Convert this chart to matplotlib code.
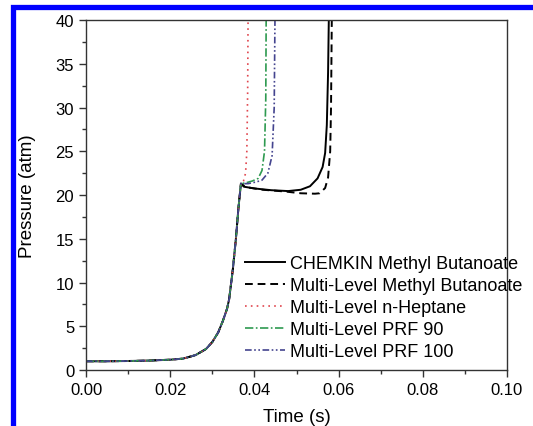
import matplotlib
matplotlib.use("Agg")
from matplotlib import pyplot as plt
from matplotlib.patches import Rectangle
from matplotlib.ticker import MultipleLocator
import numpy as np

plt.rcParams['font.family'] = ['Liberation Sans', 'DejaVu Sans']

# compression stroke, shared by all runs
t_comp = [0.0, 0.005, 0.010, 0.015, 0.020, 0.023, 0.026, 0.0285, 0.030, 0.0314,
          0.0325, 0.0335, 0.034, 0.0349, 0.0356, 0.0362, 0.0368]
p_comp = [1.0, 1.0, 1.03, 1.08, 1.18, 1.3, 1.7, 2.4, 3.2, 4.3,
          5.6, 7.0, 8.1, 11.6, 15.0, 18.5, 21.3]

# after end of compression
t_chemkin = [0.0375, 0.0400, 0.0440, 0.0480, 0.0510, 0.0532, 0.0550, 0.0562, 0.0568, 0.0572, 0.0575, 0.0577]
p_chemkin = [20.95, 20.75, 20.55, 20.45, 20.6, 21.0, 21.9, 23.2, 24.8, 28.0, 34.0, 41.0]

t_ml_mb = [0.0380, 0.0420, 0.0473, 0.0510, 0.0544, 0.0555, 0.0568, 0.0575, 0.0580, 0.0582, 0.0584]
p_ml_mb = [20.9, 20.6, 20.4, 20.2, 20.15, 20.2, 20.8, 22.0, 25.0, 30.0, 41.0]

t_hep = [0.0374, 0.0379, 0.0382, 0.0384, 0.0385]
p_hep = [21.6, 22.5, 25.0, 32.0, 41.0]

t_prf90 = [0.0380, 0.0395, 0.0409, 0.0418, 0.0424, 0.0427, 0.0428]
p_prf90 = [21.4, 21.6, 21.9, 22.8, 25.0, 31.0, 41.0]

t_prf100 = [0.0385, 0.0405, 0.0418, 0.0432, 0.0442, 0.0447, 0.0449]
p_prf100 = [21.3, 21.5, 21.7, 22.5, 24.5, 30.0, 41.0]

labels = ['CHEMKIN Methyl Butanoate', 'Multi-Level Methyl Butanoate',
          'Multi-Level n-Heptane', 'Multi-Level PRF 90', 'Multi-Level PRF 100']

fig = plt.figure(figsize=(5.33, 4.27), dpi=100)
ax = fig.add_axes([0.1614, 0.1311, 0.7898, 0.8197])

series = [
    (t_chemkin, p_chemkin, dict(color='black', ls='-', lw=1.4)),
    (t_ml_mb, p_ml_mb, dict(color='black', ls=(0, (4, 2.5)), lw=1.4)),
    (t_hep, p_hep, dict(color='#e0464e', ls=(0, (1, 2.5)), lw=1.2)),
    (t_prf90, p_prf90, dict(color='#2e9a50', ls=(0, (5, 1.5, 1, 1.5)), lw=1.2)),
    (t_prf100, p_prf100, dict(color='#44448f', ls=(0, (4, 1.5, 1, 1.5, 1, 1.5)), lw=1.2)),
]
for (t, p, st), lab in zip(series, labels):
    ax.plot(t_comp + t, p_comp + p, label=lab, **st)

ax.set_xlim(0, 0.10)
ax.set_ylim(0, 40)
ax.xaxis.set_major_locator(MultipleLocator(0.02))
ax.xaxis.set_minor_locator(MultipleLocator(0.01))
ax.yaxis.set_major_locator(MultipleLocator(5))
ax.yaxis.set_minor_locator(MultipleLocator(2.5))
ax.xaxis.set_major_formatter(matplotlib.ticker.FormatStrFormatter('%.2f'))
ax.tick_params(which='major', direction='out', length=5, width=1, labelsize=12, color='#333333')
ax.tick_params(which='minor', direction='out', length=3, width=1, color='#333333')
for s in ax.spines.values():
    s.set_color('#333333')
    s.set_linewidth(1.0)

ax.set_xlabel('Time (s)', fontsize=13.5, labelpad=8)
ax.set_ylabel('Pressure (atm)', fontsize=13.5, labelpad=14)

leg = ax.legend(loc='upper left', bbox_to_anchor=(0.378, 0.328), frameon=False,
                fontsize=13, handlelength=2.2, handletextpad=0.3, labelspacing=0.275,
                borderpad=0, borderaxespad=0)

# blue frame on the page
fig.add_artist(Rectangle((12.5 / 533, -0.2), 1.2, 1 - 7.5 / 427 + 0.2,
                         transform=fig.transFigure, fill=False,
                         edgecolor='#0000ff', linewidth=3.8, clip_on=False))

fig.savefig('out.png', dpi=100)
